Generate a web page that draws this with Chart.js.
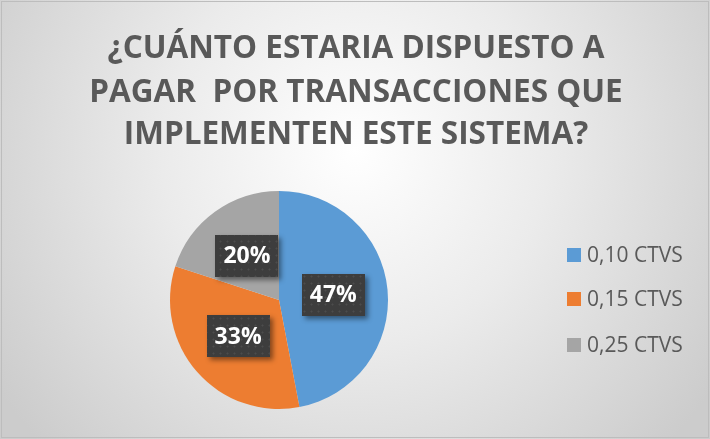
<!DOCTYPE html>
<html>
<head>
<meta charset="utf-8">
<script src="https://cdn.jsdelivr.net/npm/chart.js@4/dist/chart.umd.min.js"></script>
<style>
html,body{margin:0;padding:0;background:#fff;}
#wrap{width:710px;height:439px;position:relative;}
</style>
</head>
<body>
<div id="wrap"><canvas id="c" width="710" height="439"></canvas></div>
<script>
const titleLines = ["¿CUÁNTO ESTARIA DISPUESTO A", "PAGAR  POR TRANSACCIONES QUE", "IMPLEMENTEN ESTE SISTEMA?"];
const categories = ["0,10 CTVS", "0,15 CTVS", "0,25 CTVS"];
const percentages = [47, 33, 20];
const sliceColors = ["#5B9BD5", "#ED7D31", "#A5A5A5"];

function makePattern(ctx){
  const p = document.createElement('canvas');
  p.width = 7; p.height = 7;
  const g = p.getContext('2d');
  g.fillStyle = '#3d3d3d';
  g.fillRect(0,0,7,7);
  g.fillStyle = '#4c4c4c';
  g.fillRect(3,3,1,1);
  g.fillStyle = '#454545';
  g.fillRect(2,3,1,1); g.fillRect(4,3,1,1); g.fillRect(3,2,1,1); g.fillRect(3,4,1,1);
  return ctx.createPattern(p, 'repeat');
}

const decor = {
  id: 'decor',
  beforeDraw(chart){
    const ctx = chart.ctx;
    const W = chart.width, H = chart.height;
    ctx.save();
    const grd = ctx.createRadialGradient(355, 150, 0, 355, 150, 430);
    grd.addColorStop(0, '#ffffff');
    grd.addColorStop(0.45, '#ebebeb');
    grd.addColorStop(1, '#cccccc');
    ctx.fillStyle = grd;
    ctx.fillRect(0,0,W,H);
    ctx.strokeStyle = '#bdbdbd';
    ctx.lineWidth = 1;
    ctx.strokeRect(1.5,1.5,W-3,H-3);
    // title
    ctx.fillStyle = '#595959';
    ctx.font = 'bold 31.5px "Open Sans"';
    ctx.textAlign = 'center';
    ctx.textBaseline = 'alphabetic';
    const baselines = [58, 102, 144];
    titleLines.forEach((t,i)=>ctx.fillText(t, 356, baselines[i]));
    // legend
    ctx.font = '21px "Open Sans"';
    ctx.textAlign = 'left';
    ctx.textBaseline = 'middle';
    const rows = [255, 299, 345];
    chart.data.labels.forEach((lab,i)=>{
      ctx.fillStyle = chart.data.datasets[0].backgroundColor[i];
      ctx.fillRect(567, rows[i]-7, 14, 14);
      ctx.fillStyle = '#595959';
      ctx.fillText(lab, 587, rows[i]+1);
    });
    ctx.restore();
  },
  afterDatasetsDraw(chart){
    const ctx = chart.ctx;
    const meta = chart.getDatasetMeta(0);
    const pat = makePattern(ctx);
    ctx.save();
    meta.data.forEach((arc,i)=>{
      const pos = arc.tooltipPosition();
      const w = 63, h = 42;
      const x = Math.round(pos.x - w/2), y = Math.round(pos.y - h/2);
      ctx.save();
      ctx.shadowColor = 'rgba(0,0,0,0.45)';
      ctx.shadowBlur = 5;
      ctx.shadowOffsetX = 3;
      ctx.shadowOffsetY = 3;
      ctx.fillStyle = '#3d3d3d';
      ctx.fillRect(x,y,w,h);
      ctx.restore();
      ctx.fillStyle = pat;
      ctx.fillRect(x,y,w,h);
      ctx.fillStyle = '#ffffff';
      ctx.font = 'bold 23px "Open Sans"';
      ctx.textAlign = 'center';
      ctx.textBaseline = 'middle';
      ctx.fillText(chart.data.datasets[0].data[i] + '%', pos.x, pos.y + 1);
    });
    ctx.restore();
  }
};

new Chart(document.getElementById('c'), {
  type: 'pie',
  data: {
    labels: categories,
    datasets: [{
      data: percentages,
      backgroundColor: sliceColors,
      borderWidth: 0
    }]
  },
  options: {
    responsive: false,
    animation: false,
    layout: { padding: { left: 170, right: 322, top: 191, bottom: 30 } },
    plugins: {
      legend: { display: false },
      title: { display: false },
      tooltip: { enabled: false }
    }
  },
  plugins: [decor]
});
</script>
</body>
</html>
